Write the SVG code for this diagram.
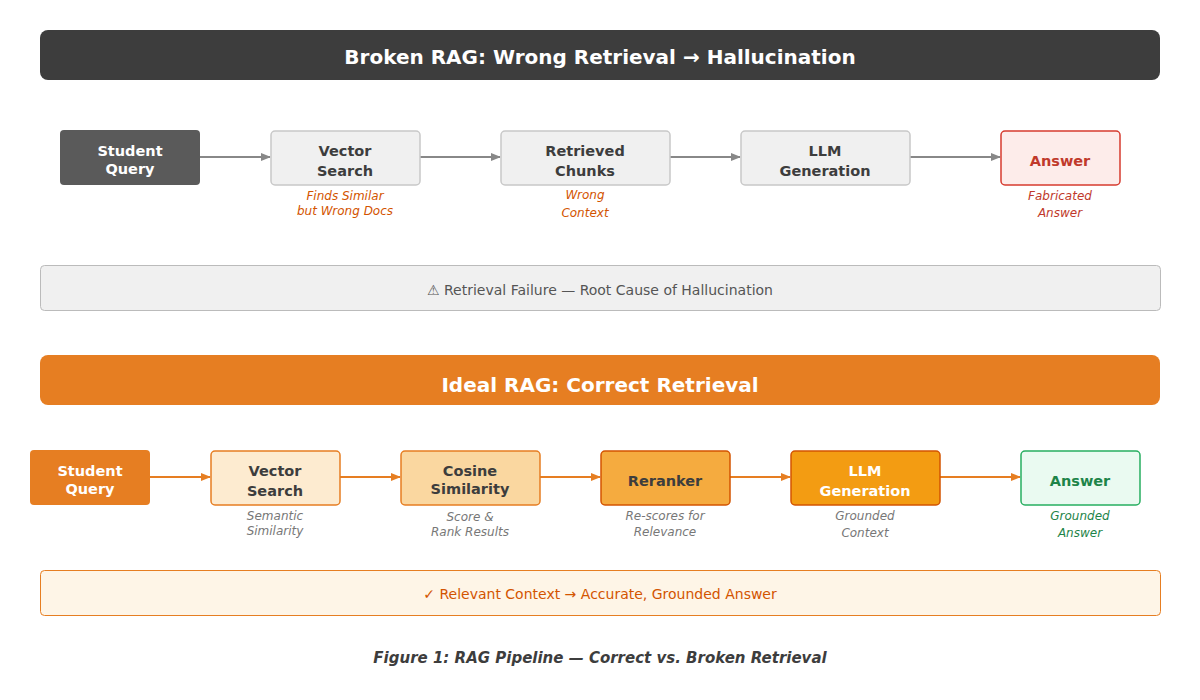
<svg xmlns="http://www.w3.org/2000/svg" width="1200" height="700" viewBox="0 0 1200 700">
<style>
text{font-family:"DejaVu Sans",sans-serif;text-anchor:middle}
.t{font-size:15px;font-weight:bold}
.n{font-size:14.5px;font-weight:bold}
.s{font-size:12px;font-style:italic}
.g{stroke:#888;stroke-width:2;fill:none}
.o{stroke:#e67e22;stroke-width:2;fill:none}
</style>
<defs>
<marker id="ag" markerWidth="10" markerHeight="10" refX="9" refY="5" orient="auto" markerUnits="userSpaceOnUse"><path d="M0,1 L10,5 L0,9 Z" fill="#888"/></marker>
<marker id="ao" markerWidth="10" markerHeight="10" refX="9" refY="5" orient="auto" markerUnits="userSpaceOnUse"><path d="M0,1 L10,5 L0,9 Z" fill="#e67e22"/></marker>
</defs>
<rect width="1200" height="700" fill="#fff"/>
<g id="title1"><rect x="40" y="30" width="1120" height="50" rx="8" fill="#3d3d3d"/><text x="600" y="64" font-size="20" font-weight="bold" fill="#fff">Broken RAG: Wrong Retrieval → Hallucination</text></g>
<g id="connectors">
<path class="g" d="M200,157 H270" marker-end="url(#ag)"/>
<path class="g" d="M420,157 H500" marker-end="url(#ag)"/>
<path class="g" d="M670,157 H740" marker-end="url(#ag)"/>
<path class="g" d="M910,157 H1000" marker-end="url(#ag)"/>
<path class="o" d="M150,477 H210" marker-end="url(#ao)"/>
<path class="o" d="M340,477 H400" marker-end="url(#ao)"/>
<path class="o" d="M540,477 H600" marker-end="url(#ao)"/>
<path class="o" d="M730,477 H790" marker-end="url(#ao)"/>
<path class="o" d="M940,477 H1020" marker-end="url(#ao)"/>
</g>
<g id="b1"><rect x="60" y="130" width="140" height="55" rx="4" fill="#5a5a5a"/><text class="n" x="130" y="156" fill="#fff">Student</text><text class="n" x="130" y="174" fill="#fff">Query</text></g>
<g id="b2"><rect x="271" y="131" width="149" height="54" rx="4" fill="#f0f0f0" stroke="#c8c8c8" stroke-width="1.5"/><text class="n" x="345" y="156" fill="#3d3d3d">Vector</text><text class="n" x="345" y="176" fill="#3d3d3d">Search</text><text class="s" x="345" y="200" fill="#d35400">Finds Similar</text><text class="s" x="345" y="215" fill="#d35400">but Wrong Docs</text></g>
<g id="b3"><rect x="501" y="131" width="169" height="54" rx="4" fill="#f0f0f0" stroke="#c8c8c8" stroke-width="1.5"/><text class="n" x="585" y="156" fill="#3d3d3d">Retrieved</text><text class="n" x="585" y="176" fill="#3d3d3d">Chunks</text><text class="s" x="585" y="199" fill="#d35400">Wrong</text><text class="s" x="585" y="217" fill="#d35400">Context</text></g>
<g id="b4"><rect x="741" y="131" width="169" height="54" rx="4" fill="#f0f0f0" stroke="#c8c8c8" stroke-width="1.5"/><text class="n" x="825" y="156" fill="#3d3d3d">LLM</text><text class="n" x="825" y="176" fill="#3d3d3d">Generation</text></g>
<g id="b5"><rect x="1001" y="131" width="119" height="54" rx="4" fill="#fdecea" stroke="#d63b2f" stroke-width="1.5"/><text class="n" x="1060" y="166" fill="#c0392b">Answer</text><text class="s" x="1060" y="200" fill="#c0392b">Fabricated</text><text class="s" x="1060" y="217" fill="#c0392b">Answer</text></g>
<g id="warn"><rect x="40.5" y="265.5" width="1120" height="45" rx="4" fill="#f0f0f0" stroke="#bbb"/><text x="600" y="295" font-size="14" fill="#555">⚠  Retrieval Failure — Root Cause of Hallucination</text></g>
<g id="title2"><rect x="40" y="355" width="1120" height="50" rx="8" fill="#e67e22"/><text x="600" y="392" font-size="20" font-weight="bold" fill="#fff">Ideal RAG: Correct Retrieval</text></g>
<g id="c1"><rect x="30" y="450" width="120" height="55" rx="4" fill="#e67e22"/><text class="n" x="90" y="476" fill="#fff">Student</text><text class="n" x="90" y="494" fill="#fff">Query</text></g>
<g id="c2"><rect x="211" y="451" width="129" height="54" rx="4" fill="#fdebd0" stroke="#e67e22" stroke-width="1.5"/><text class="n" x="275" y="476" fill="#3d3d3d">Vector</text><text class="n" x="275" y="496" fill="#3d3d3d">Search</text><text class="s" x="275" y="520" fill="#777">Semantic</text><text class="s" x="275" y="535" fill="#777">Similarity</text></g>
<g id="c3"><rect x="401" y="451" width="139" height="54" rx="4" fill="#fad7a0" stroke="#e67e22" stroke-width="1.5"/><text class="n" x="470" y="476" fill="#3d3d3d">Cosine</text><text class="n" x="470" y="494" fill="#3d3d3d">Similarity</text><text class="s" x="470" y="521" fill="#777">Score &amp;</text><text class="s" x="470" y="536" fill="#777">Rank Results</text></g>
<g id="c4"><rect x="601" y="451" width="129" height="54" rx="4" fill="#f5ab3f" stroke="#d35400" stroke-width="1.5"/><text class="n" x="665" y="486" fill="#3d3d3d">Reranker</text><text class="s" x="665" y="520" fill="#777">Re-scores for</text><text class="s" x="665" y="536" fill="#777">Relevance</text></g>
<g id="c5"><rect x="791" y="451" width="149" height="54" rx="4" fill="#f39c12" stroke="#d35400" stroke-width="1.5"/><text class="n" x="865" y="476" fill="#fff">LLM</text><text class="n" x="865" y="496" fill="#fff">Generation</text><text class="s" x="865" y="520" fill="#777">Grounded</text><text class="s" x="865" y="537" fill="#777">Context</text></g>
<g id="c6"><rect x="1021" y="451" width="119" height="54" rx="4" fill="#eafaf1" stroke="#27ae60" stroke-width="1.5"/><text class="n" x="1080" y="486" fill="#1e8449">Answer</text><text class="s" x="1080" y="520" fill="#1e8449">Grounded</text><text class="s" x="1080" y="537" fill="#1e8449">Answer</text></g>
<g id="ok"><rect x="40.5" y="570.5" width="1120" height="45" rx="4" fill="#fef5e7" stroke="#e67e22"/><text x="600" y="599" font-size="14" fill="#d35400">✓  Relevant Context → Accurate, Grounded Answer</text></g>
<text x="600" y="663" font-size="15" font-weight="bold" font-style="italic" fill="#3d3d3d">Figure 1: RAG Pipeline — Correct vs. Broken Retrieval</text>
</svg>
